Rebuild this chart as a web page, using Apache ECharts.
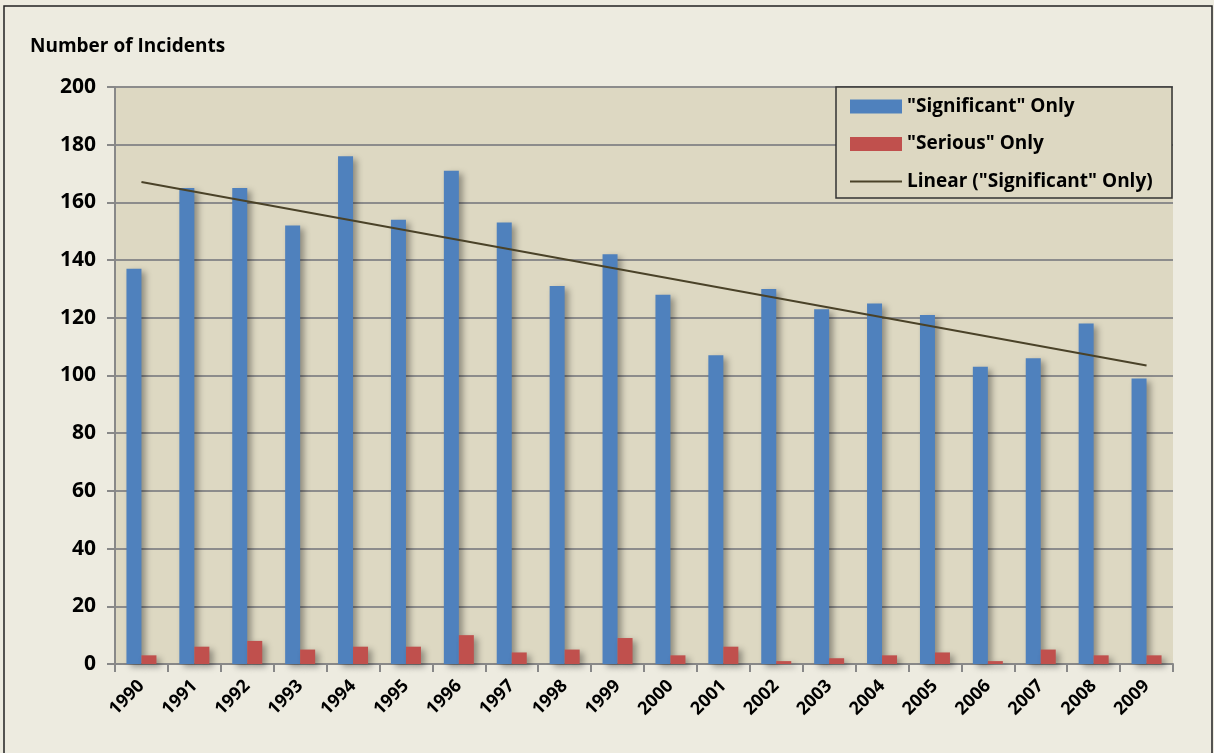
<!DOCTYPE html>
<html><head><meta charset="utf-8">
<script src="https://cdn.jsdelivr.net/npm/echarts@6/dist/echarts.min.js"></script>
<style>html,body{margin:0;padding:0;background:#EDEBE0;}#c{width:1214px;height:753px;}</style>
</head><body><div id="c"></div>
<script>
const years = ['1990','1991','1992','1993','1994','1995','1996','1997','1998','1999','2000','2001','2002','2003','2004','2005','2006','2007','2008','2009'];
const significant = [137,165,165,152,176,154,171,153,131,142,128,107,130,123,125,121,103,106,118,99];
const serious = [3,6,8,5,6,6,10,4,5,9,3,6,1,2,3,4,1,5,3,3];
const trendEnds = [['1990',167.1],['2009',103.5]];
const yTicks = {min:0, max:200, interval:20};

const chart = echarts.init(document.getElementById('c'));
const font = '"Open Sans", Lato, sans-serif';
chart.setOption({
  backgroundColor:'#EDEBE0',
  animation:false,
  textStyle:{fontFamily:font},
  graphic:[
    {type:'rect',shape:{x:4,y:6,width:1208,height:760},style:{fill:'none',stroke:'#222',lineWidth:1.5},z:-1},
    {type:'rect',shape:{x:836,y:87,width:336,height:111},style:{fill:'#DDD8C2',stroke:'#333',lineWidth:1.5},z:3}
  ],
  title:{text:'Number of Incidents',left:25,top:32,textStyle:{fontFamily:font,fontSize:19,fontWeight:'bold',color:'#000'}},
  legend:{
    orient:'vertical',left:850,top:97,z:10,
    padding:0,itemGap:18.5,itemWidth:52,itemHeight:14,
    textStyle:{fontFamily:font,fontSize:19,fontWeight:'bold',color:'#000'},
    data:[{name:'"Significant" Only',icon:'rect'},{name:'"Serious" Only',icon:'rect'},
          {name:'Linear ("Significant" Only)',icon:'path://M0,0h52v2h-52z'}]
  },
  grid:{left:115,right:41,top:87,bottom:89,show:true,backgroundColor:'#DDD8C2',borderWidth:0},
  xAxis:{type:'category',data:years,
    axisLine:{lineStyle:{color:'#888',width:2}},
    axisTick:{show:true,alignWithLabel:false,length:8,lineStyle:{color:'#888',width:2}},
    axisLabel:{rotate:45,fontSize:18,fontWeight:'bold',color:'#000',margin:19,fontFamily:font}
  },
  yAxis:{type:'value',min:yTicks.min,max:yTicks.max,interval:yTicks.interval,
    axisLine:{show:true,lineStyle:{color:'#888',width:2}},
    axisTick:{show:true,length:8,lineStyle:{color:'#888',width:2}},
    splitLine:{lineStyle:{color:'#8c8c8c',width:2}},
    axisLabel:{fontSize:21,fontWeight:'bold',color:'#000',margin:19,fontFamily:font}
  },
  series:[
    {name:'"Significant" Only',type:'bar',data:significant,barWidth:15,barGap:'0%',
     itemStyle:{color:'#4F81BD',shadowColor:'rgba(0,0,0,0.35)',shadowBlur:6,shadowOffsetX:4,shadowOffsetY:3}},
    {name:'"Serious" Only',type:'bar',data:serious,barWidth:15,barGap:'0%',
     itemStyle:{color:'#C0504D',shadowColor:'rgba(0,0,0,0.35)',shadowBlur:6,shadowOffsetX:4,shadowOffsetY:3}},
    {name:'Linear ("Significant" Only)',type:'line',data:trendEnds,symbol:'none',z:5,
     lineStyle:{color:'#4A4228',width:2},itemStyle:{color:'#4A4228'}}
  ]
});
</script></body></html>
